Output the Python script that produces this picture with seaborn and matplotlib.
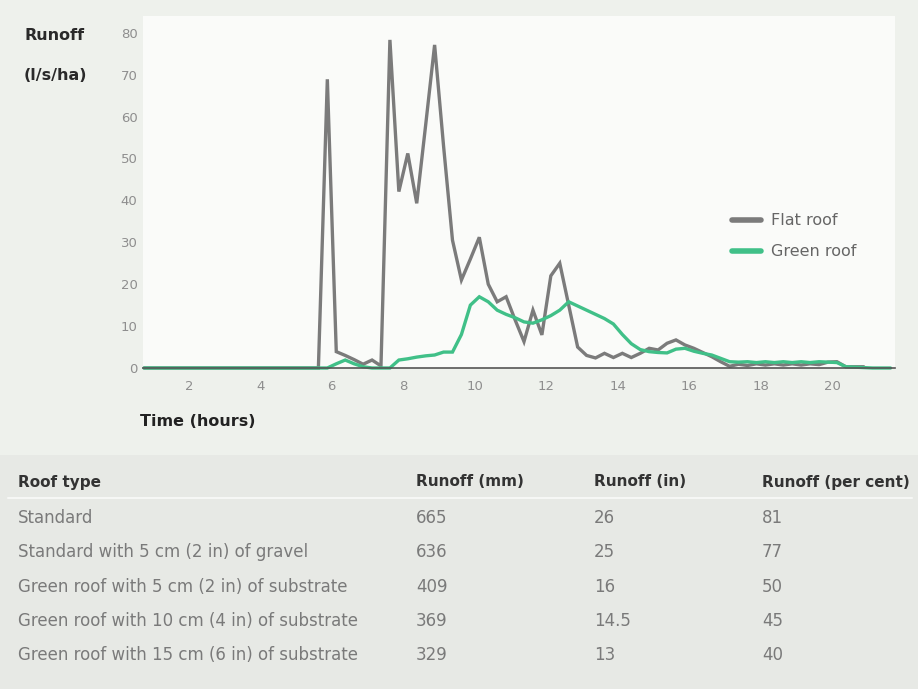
import matplotlib
matplotlib.use("Agg")
import matplotlib.pyplot as plt
import seaborn as sns
import pandas as pd
import numpy as np

# ---------------- data ----------------
time_h = [0.75, 5.625, 5.875, 6.125, 6.375, 6.625, 6.875, 7.125, 7.375, 7.625, 7.875,
          8.125, 8.375, 8.625, 8.875, 9.125, 9.375, 9.625, 9.875, 10.125, 10.375,
          10.625, 10.875, 11.125, 11.375, 11.625, 11.875, 12.125, 12.375, 12.625, 12.875,
          13.125, 13.375, 13.625, 13.875, 14.125, 14.375, 14.625, 14.875, 15.125, 15.375,
          15.625, 15.875, 16.125, 16.375, 16.625, 16.875, 17.125, 17.375, 17.625, 17.875,
          18.125, 18.375, 18.625, 18.875, 19.125, 19.375, 19.625, 19.875, 20.125, 20.375,
          20.625, 20.875, 21.125, 21.375, 21.625]

flat_roof = [0, 0, 68.9, 3.9, 3.0, 2.0, 0.9, 1.9, 0.5, 78.3, 42.1,
             51.2, 39.3, 58.0, 77.1, 53.0, 30.5, 21.0, 26.0, 31.2, 20.0,
             15.8, 17.0, 11.5, 6.3, 13.8, 7.9, 22.0, 25.0, 15.0, 5.0,
             3.0, 2.4, 3.5, 2.5, 3.5, 2.5, 3.5, 4.7, 4.3, 5.9,
             6.7, 5.5, 4.7, 3.7, 2.7, 1.5, 0.4, 0.9, 0.6, 1.0,
             0.7, 1.0, 0.7, 1.0, 0.7, 1.0, 0.8, 1.4, 1.5, 0.3,
             0.3, 0.3, np.nan, np.nan, np.nan]

green_roof = [0, 0, 0, 1.0, 1.9, 1.0, 0.3, 0, 0, 0, 1.9,
              2.2, 2.6, 2.9, 3.1, 3.8, 3.8, 8.0, 15.0, 17.0, 15.8,
              13.8, 12.8, 12.0, 11.0, 10.7, 11.5, 12.5, 13.8, 15.8, 14.8,
              13.8, 12.8, 11.8, 10.5, 8.0, 5.8, 4.4, 3.9, 3.7, 3.6,
              4.5, 4.7, 4.0, 3.5, 3.1, 2.3, 1.5, 1.4, 1.5, 1.3,
              1.5, 1.3, 1.5, 1.3, 1.5, 1.3, 1.5, 1.4, 1.3, 0.3,
              0.2, 0.1, 0, 0, 0]

x_ticks = [2, 4, 6, 8, 10, 12, 14, 16, 18, 20]
y_ticks = [0, 10, 20, 30, 40, 50, 60, 70, 80]
series_names = ["Flat roof", "Green roof"]

table_header = ["Roof type", "Runoff (mm)", "Runoff (in)", "Runoff (per cent)"]
roof_types = ["Standard",
              "Standard with 5 cm (2 in) of gravel",
              "Green roof with 5 cm (2 in) of substrate",
              "Green roof with 10 cm (4 in) of substrate",
              "Green roof with 15 cm (6 in) of substrate"]
runoff_mm = ["665", "636", "409", "369", "329"]
runoff_in = ["26", "25", "16", "14.5", "13"]
runoff_pct = ["81", "77", "50", "45", "40"]

# ---------------- style ----------------
sns.set_theme(style="white")
plt.rcParams["font.family"] = ["DejaVu Sans"]

W, H = 918, 689
fig = plt.figure(figsize=(W / 100, H / 100), dpi=100)
fig.patch.set_facecolor("#eef1ec")

def fx(px):
    return px / W

def fy(py):
    return 1 - py / H

# table band background
fig.patches.append(plt.Rectangle((0, 0), 1, fy(455), transform=fig.transFigure,
                                 facecolor="#e7e9e5", edgecolor="none", zorder=0))

# axes placement: x 0.72..21.75 -> px 143..895 ; y 0..84 -> px 368..16
ax = fig.add_axes([fx(143), fy(368), fx(895) - fx(143), (368 - 16) / H])
ax.set_facecolor("#fafbf9")

df = pd.DataFrame({"Time": time_h * 2,
                   "Runoff": flat_roof + green_roof,
                   "Roof": [series_names[0]] * len(time_h) + [series_names[1]] * len(time_h)})

palette = {"Flat roof": "#7b7b7b", "Green roof": "#40c088"}
sns.lineplot(data=df, x="Time", y="Runoff", hue="Roof", palette=palette,
             linewidth=2.4, ax=ax, legend=True, estimator=None, sort=False)
for ln in ax.lines:
    ln.set_clip_on(False)
    ln.set_solid_joinstyle("miter")

ax.set_xlim(0.72, 21.75)
ax.set_ylim(0, 84)
ax.set_xticks(x_ticks)
ax.set_yticks(y_ticks)
ax.set_xticklabels([str(v) for v in x_ticks])
ax.set_yticklabels([str(v) for v in y_ticks])
ax.tick_params(axis="both", length=0, labelsize=9.5, labelcolor="#8e8e8e")
ax.tick_params(axis="x", pad=9)
ax.tick_params(axis="y", pad=4)
ax.set_xlabel("")
ax.set_ylabel("")
for s in ["top", "right", "left"]:
    ax.spines[s].set_visible(False)
ax.spines["bottom"].set_color("#555555")
ax.spines["bottom"].set_linewidth(1.2)

leg = ax.legend(loc="upper left", bbox_to_anchor=(fx(718), fy(199)),
                bbox_transform=fig.transFigure, frameon=False, fontsize=11.5,
                handlelength=1.8, labelspacing=1.0, handletextpad=0.6)
for t in leg.get_texts():
    t.set_color("#666666")
for h in leg.get_lines():
    h.set_linewidth(4)

# axis titles
fig.text(fx(24), fy(36), "Runoff", fontsize=11.5, fontweight="bold", color="#2a2a2a",
         va="center", ha="left")
fig.text(fx(24), fy(75), "(l/s/ha)", fontsize=11.5, fontweight="bold", color="#2a2a2a",
         va="center", ha="left")
fig.text(fx(140), fy(421), "Time (hours)", fontsize=11.5, fontweight="bold", color="#222222",
         va="center", ha="left")

# ---------------- table ----------------
col_x = [18, 416, 594, 762]
header_y = 482
for cx, txt in zip(col_x, table_header):
    fig.text(fx(cx), fy(header_y), txt, fontsize=11, fontweight="bold", color="#333333",
             va="center", ha="left")
fig.lines.append(plt.Line2D([fx(8), fx(912)], [fy(498), fy(498)], transform=fig.transFigure,
                            color="#f6f7f5", linewidth=1.5))
row_y = [518, 552, 587, 621, 655]
for i, ry in enumerate(row_y):
    vals = [roof_types[i], runoff_mm[i], runoff_in[i], runoff_pct[i]]
    for cx, txt in zip(col_x, vals):
        fig.text(fx(cx), fy(ry), txt, fontsize=12, color="#7a7a7a", va="center", ha="left")

fig.savefig("out.png", dpi=100, facecolor=fig.get_facecolor())
